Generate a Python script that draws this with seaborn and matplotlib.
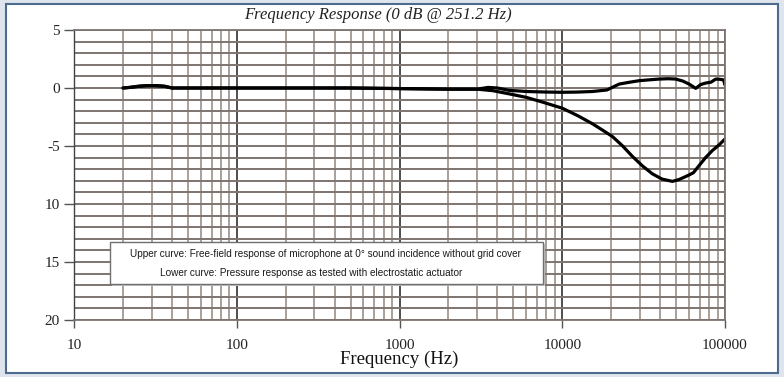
import matplotlib
matplotlib.use("Agg")

import numpy as np
import pandas as pd
import matplotlib.pyplot as plt
import seaborn as sns
from matplotlib.patches import Rectangle
from matplotlib.ticker import LogLocator, FixedLocator, MultipleLocator, NullFormatter

# data
freq_upper = [20, 22, 25, 28, 32, 36, 40, 50, 100, 200, 500, 1000, 2000, 3000, 3500,
              4000, 4700, 6000, 8000, 10000, 12500, 15400, 18800, 22400, 26000, 29700,
              34000, 39300, 45000, 49800, 55000, 60100, 66100, 71000, 76200, 82000,
              87700, 93000, 98000, 100000]
db_upper = [0.0, 0.05, 0.15, 0.2, 0.2, 0.15, 0.0, 0.0, 0.0, 0.0, 0.0, -0.05, -0.1, -0.1, 0.05,
            0.0, -0.2, -0.3, -0.35, -0.37, -0.35, -0.3, -0.17, 0.34, 0.5, 0.63,
            0.7, 0.77, 0.8, 0.77, 0.6, 0.34, -0.03, 0.3, 0.43, 0.5,
            0.77, 0.75, 0.7, 0.26]

freq_lower = [20, 22, 25, 28, 32, 36, 40, 50, 100, 200, 500, 1000, 2000, 3000, 3740,
              4700, 5980, 7500, 10000, 12500, 15400, 18000, 20400, 23500, 27000, 31000,
              35800, 41000, 47500, 52000, 56000, 60100, 64000, 69200, 76000, 83500,
              92000, 100000]
db_lower = [0.0, 0.05, 0.15, 0.2, 0.2, 0.15, 0.0, 0.0, 0.0, 0.0, 0.0, -0.05, -0.1, -0.1, -0.23,
            -0.5, -0.8, -1.2, -1.74, -2.4, -3.1, -3.7, -4.2, -5.0, -5.9, -6.7,
            -7.4, -7.85, -8.05, -7.9, -7.7, -7.5, -7.3, -6.7, -6.0, -5.4,
            -4.9, -4.4]

y_ticks = [5, 0, -5, -10, -15, -20]
y_labels = ["5", "0", "-5", "10", "15", "20"]
x_ticks = [10, 100, 1000, 10000, 100000]
x_labels = ["10", "100", "1000", "10000", "100000"]

title = "Frequency Response (0 dB @ 251.2 Hz)"
note_1 = "Upper curve: Free-field response of microphone at 0\u00b0 sound incidence without grid cover"
note_2 = "Lower curve: Pressure response as tested with electrostatic actuator"

df = pd.concat([
    pd.DataFrame({"freq": freq_upper, "db": db_upper, "curve": "upper"}),
    pd.DataFrame({"freq": freq_lower, "db": db_lower, "curve": "lower"}),
])

sns.set_theme(style="white")
plt.rcParams["font.family"] = ["Liberation Serif", "DejaVu Serif"]

fig = plt.figure(figsize=(7.84, 3.77), dpi=100)
fig.patch.set_facecolor("#dfe5ec")
frame = Rectangle((6 / 784, 4 / 377), 772 / 784, 369 / 377, transform=fig.transFigure,
                  facecolor="white", edgecolor="#4d6b8c", linewidth=1.5, zorder=-10)
fig.patches.append(frame)

ax = fig.add_axes([74 / 784, 57 / 377, 651 / 784, 290 / 377])
ax.set_facecolor("white")

sns.lineplot(data=df, x="freq", y="db", units="curve", estimator=None, sort=False,
             color="black", linewidth=2.3, ax=ax)

ax.set_xscale("log")
ax.set_xlim(10, 100000)
ax.set_ylim(-20, 5)

ax.xaxis.set_major_locator(FixedLocator(x_ticks))
ax.set_xticklabels(x_labels)
ax.xaxis.set_minor_locator(LogLocator(base=10, subs=np.arange(2, 10)))
ax.xaxis.set_minor_formatter(NullFormatter())
ax.yaxis.set_major_locator(FixedLocator(y_ticks))
ax.set_yticklabels(y_labels)
ax.yaxis.set_minor_locator(MultipleLocator(1))

ax.grid(True, which="major", axis="x", color="#1e1e1e", linewidth=1.1, linestyle="-")
ax.grid(True, which="minor", axis="x", color="#9c9089", linewidth=1.2, linestyle="-")
ax.grid(True, which="both", axis="y", color="#7f7570", linewidth=1.4, linestyle="-")

ax.tick_params(axis="x", which="major", direction="out", length=6, width=1, color="#555555",
               labelsize=11, pad=8, bottom=True, labelcolor="#222222")
ax.tick_params(axis="x", which="minor", bottom=False)
ax.tick_params(axis="y", which="major", direction="out", length=7, width=1, color="#555555",
               labelsize=11, pad=3, left=True, labelcolor="#222222")
ax.tick_params(axis="y", which="minor", left=False)

for side in ["top", "right", "bottom"]:
    ax.spines[side].set_color("#7f7570")
    ax.spines[side].set_linewidth(1.3)
ax.spines["left"].set_color("#444444")
ax.spines["left"].set_linewidth(1.0)

ax.set_xlabel("Frequency (Hz)", fontsize=13.5, labelpad=-1, color="#111111")
ax.set_ylabel("")

fig.text(378 / 784, 1 - 15 / 377, title, ha="center", va="center",
         fontsize=12, style="italic", color="#222222")

# note box
shadow = Rectangle((0.058, 0.117), 0.665, 0.145, transform=ax.transAxes,
                   facecolor="#c4c4c4", edgecolor="none", zorder=4)
box = Rectangle((0.055, 0.124), 0.665, 0.145, transform=ax.transAxes,
                facecolor="white", edgecolor="#6f6f6f", linewidth=1.0, zorder=5)
ax.add_patch(shadow)
ax.add_patch(box)
ax.text(0.387, 0.227, note_1, transform=ax.transAxes, ha="center", va="center",
        fontsize=7.2, family=["Liberation Sans", "DejaVu Sans"], color="#1a1a1a", zorder=6)
ax.text(0.365, 0.162, note_2, transform=ax.transAxes, ha="center", va="center",
        fontsize=7.2, family=["Liberation Sans", "DejaVu Sans"], color="#1a1a1a", zorder=6)

plt.savefig("out.png", dpi=100, facecolor=fig.get_facecolor())
